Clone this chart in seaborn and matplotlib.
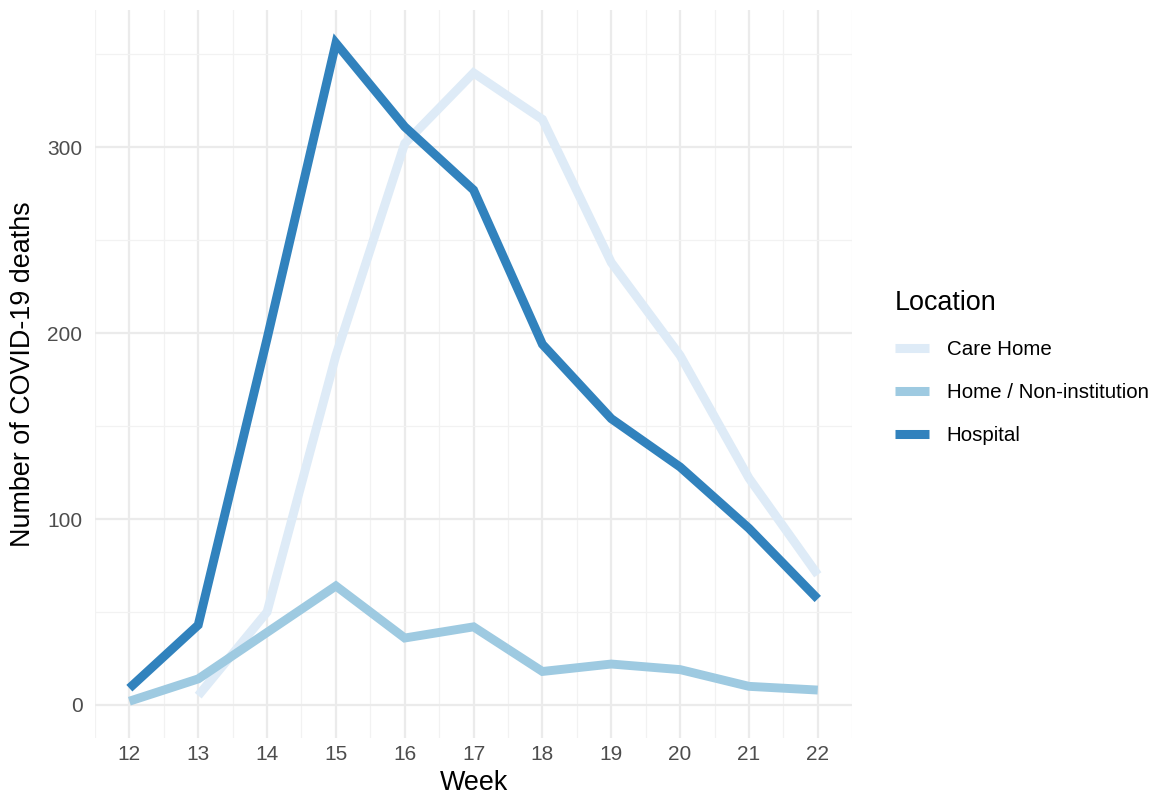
import numpy as np
import pandas as pd
import matplotlib
matplotlib.use("Agg")
import matplotlib.pyplot as plt
from matplotlib.ticker import MultipleLocator
import seaborn as sns

weeks = list(range(12, 23))
care_home = [np.nan, 5, 50, 188, 302, 340, 315, 238, 188, 122, 70]
home = [2, 14, 39, 64, 36, 42, 18, 22, 19, 10, 8]
hospital = [9, 43, 197, 356, 311, 277, 194, 154, 128, 95, 57]
locations = ["Care Home", "Home / Non-institution", "Hospital"]
colors = ["#DEEBF7", "#9ECAE1", "#3182BD"]

df = pd.DataFrame({
    "Week": weeks * 3,
    "Deaths": care_home + home + hospital,
    "Location": np.repeat(locations, len(weeks)),
}).dropna()

sns.set_theme(style="whitegrid")
plt.rcParams["font.family"] = ["Liberation Sans", "DejaVu Sans"]

fig = plt.figure(figsize=(11.65, 7.97), dpi=100)
ax = fig.add_axes([0.0815, 0.074, 0.65, 0.9134])

sns.lineplot(data=df, x="Week", y="Deaths", hue="Location", hue_order=locations,
             palette=colors, linewidth=6.4, ax=ax, legend=False,
             solid_capstyle="butt", solid_joinstyle="miter")

ax.set_xlim(11.5, 22.5)
ax.set_ylim(-17.8, 373.8)
ax.set_xticks(weeks)
ax.set_yticks([0, 100, 200, 300])
ax.xaxis.set_minor_locator(MultipleLocator(0.5))
ax.yaxis.set_minor_locator(MultipleLocator(50))

for s in ax.spines.values():
    s.set_visible(False)
ax.set_facecolor("white")
ax.grid(which="major", color="#EBEBEB", linewidth=1.6)
ax.grid(which="minor", color="#F2F2F2", linewidth=0.9)
ax.tick_params(which="both", length=0, labelsize=15, labelcolor="#4D4D4D")
ax.tick_params(axis="x", pad=5)
ax.tick_params(axis="y", pad=9)

ax.set_xlabel("Week", fontsize=19.4, color="black", labelpad=4.5)
ax.set_ylabel("Number of COVID-19 deaths", fontsize=19.4, color="black", labelpad=8)

handles = [plt.Line2D([0], [0], color=c, linewidth=6.5, solid_capstyle="butt") for c in colors]
leg = fig.legend(handles, locations, title="Location", loc="upper left",
                 bbox_to_anchor=(0.7596, 0.649), frameon=False, fontsize=14.8,
                 title_fontsize=19.4, handlelength=1.65, handletextpad=0.85,
                 labelspacing=1.17, borderpad=0)
leg._legend_box.align = "left"
for t in leg.get_texts():
    t.set_color("black")
leg.get_title().set_color("black")

fig.savefig("out.png", dpi=100)
